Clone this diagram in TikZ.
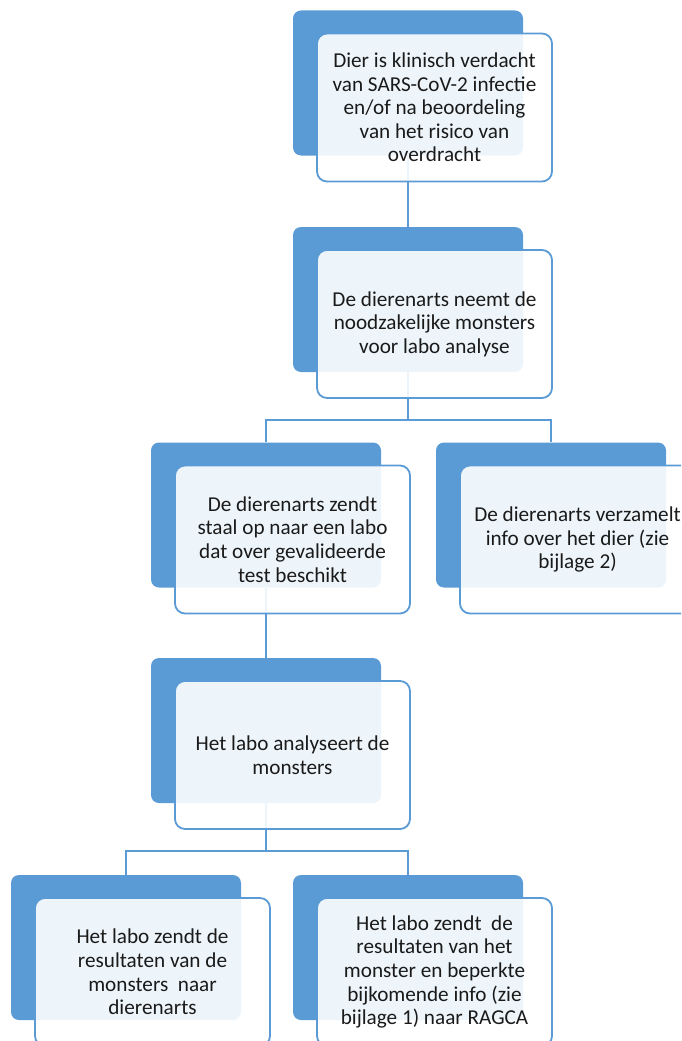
\documentclass[tikz,border=0pt]{standalone}
\usepackage{fontspec}
\setmainfont{Carlito}
\usepackage{tikz}
\usetikzlibrary{positioning}

\definecolor{accentblue}{HTML}{5B9BD5}
\definecolor{textgrey}{HTML}{1A1A1A}

\tikzset{
    backbox/.style={rectangle, rounded corners=8pt, fill=accentblue, draw=none,
        minimum width=230pt, minimum height=145pt},
    frontbox/.style={rectangle, rounded corners=10pt, fill=white, fill opacity=0.9,
        text opacity=1, draw=accentblue, line width=1.8pt, text=textgrey,
        minimum width=235pt, minimum height=148pt, align=center,
        font=\fontsize{21.2}{23.6}\selectfont},
    link/.style={draw=accentblue, line width=2pt}
}

\begin{document}
\begin{tikzpicture}[x=1pt, y=-1pt]
                \useasboundingbox (0,0) rectangle (681,1041);
                \clip (0,0) rectangle (681,1041);
                % back boxes
                \node[backbox] (b1) at (408,83) {};
                \node[backbox] (b2) at (408,299.5) {};
                \node[backbox] (b3) at (266,515) {};
                \node[backbox] (b4) at (551,515) {};
                \node[backbox] (b5) at (266,730.5) {};
                \node[backbox] (b6) at (126,947.5) {};
                \node[backbox] (b7) at (408,947.5) {};
                % connectors
                \draw[link] (b1.south) -- (b2.north);
                \draw[link] (b2.south) -- ++(0,48) -| (b3.north);
                \draw[link] (b2.south) -- ++(0,48) -| (b4.north);
                \draw[link] (b3.south) -- (b5.north);
                \draw[link] (b5.south) -- ++(0,48) -| (b6.north);
                \draw[link] (b5.south) -- ++(0,48) -| (b7.north);
                % front boxes
                \node[frontbox] (f1) at ([shift={(26.5,24.5)}]b1) {Dier is klinisch verdacht\\van SARS-CoV-2 infectie\\en/of na beoordeling\\van het risico van\\overdracht};
                \node[frontbox] (f2) at ([shift={(26.5,24.5)}]b2) {De dierenarts neemt de\\noodzakelijke monsters\\voor labo analyse};
                \node[frontbox] (f3) at ([shift={(26.5,24.5)}]b3) {De dierenarts zendt\\staal op naar een labo\\dat over gevalideerde\\test beschikt};
                \node[frontbox] (f4) at ([shift={(26.5,24.5)}]b4) {De dierenarts verzamelt\\info over het dier (zie\\bijlage 2)};
                \node[frontbox] (f5) at ([shift={(26.5,24.5)}]b5) {Het labo analyseert de\\monsters};
                \node[frontbox] (f6) at ([shift={(26.5,24.5)}]b6) {Het labo zendt de\\resultaten van de\\monsters\ \ naar\\dierenarts};
                \node[frontbox] (f7) at ([shift={(26.5,24.5)}]b7) {Het labo zendt\ \ de\\resultaten van het\\monster en beperkte\\bijkomende info (zie\\bijlage 1) naar RAGCA};
            \end{tikzpicture}
\end{document}
